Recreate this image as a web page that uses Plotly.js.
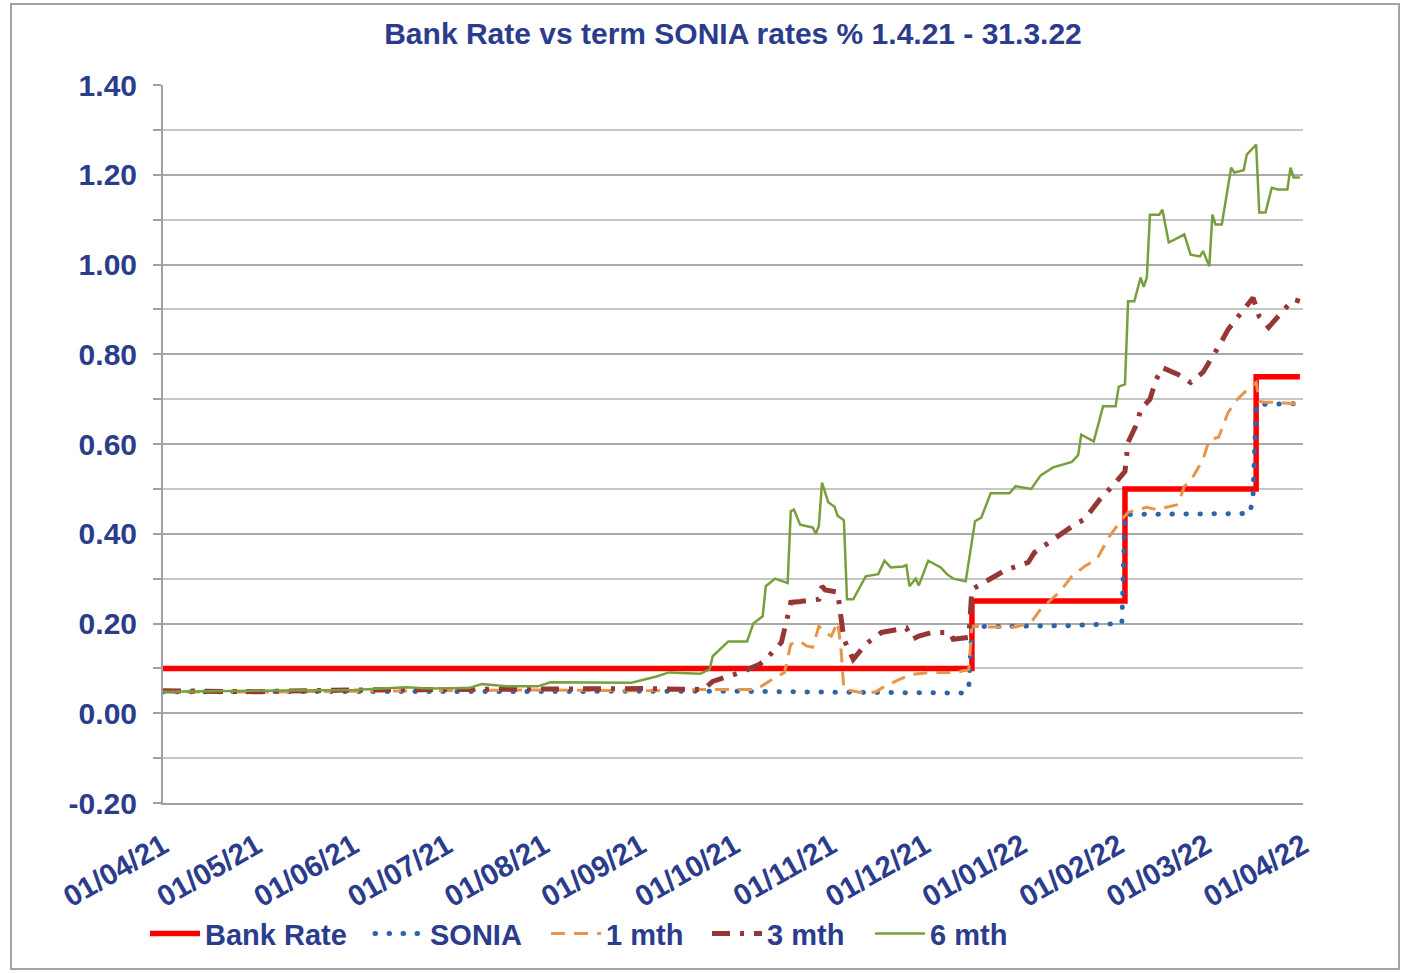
<!DOCTYPE html>
<html>
<head>
<meta charset="utf-8">
<script src="https://cdn.plot.ly/plotly-3.0.1.min.js"></script>
<style>
  html, body { margin: 0; padding: 0; background: #fff; }
  #chart { position: absolute; left: 0; top: 0; width: 1402px; height: 973px; }
  #frame { position: absolute; left: 10px; top: 3px; width: 1390px; height: 967px;
           border: 2px solid #a3a3a3; box-sizing: border-box; pointer-events: none; }
  .tracesonia .js-line, .legend2 .js-line { stroke-linecap: round; }
</style>
</head>
<body>
<div id="chart"></div>
<div id="frame"></div>
<script>
// ---- Data ----
const bankDates = ['2021-04-01','2021-12-16','2022-02-03','2022-03-17','2022-03-31'];
const bankVals  = [0.10, 0.25, 0.50, 0.75, 0.75];

const soniaDates = ['2021-04-01','2021-06-01','2021-09-01','2021-10-01','2021-11-01','2021-12-14','2021-12-15','2021-12-16',
                    '2022-01-15','2022-02-02','2022-02-03','2022-03-15','2022-03-16','2022-03-17','2022-03-31'];
const soniaVals  = [0.048,0.049,0.048,0.049,0.047,0.045,0.058,0.193,
                    0.195,0.200,0.443,0.445,0.483,0.688,0.690];

const m1Dates = ['2021-04-01','2021-05-01','2021-06-01','2021-07-01','2021-08-01','2021-09-01','2021-09-20','2021-10-08',
                 '2021-10-12','2021-10-17','2021-10-18','2021-10-19','2021-10-22','2021-10-24','2021-10-26','2021-10-28',
                 '2021-10-30','2021-11-01','2021-11-03','2021-11-04','2021-11-05','2021-11-10','2021-11-15','2021-11-18',
                 '2021-11-23','2021-11-27','2021-12-03','2021-12-11','2021-12-15','2021-12-16','2021-12-21','2021-12-30',
                 '2022-01-04','2022-01-07','2022-01-13','2022-01-17','2022-01-21','2022-01-25','2022-01-29','2022-02-02',
                 '2022-02-04','2022-02-10','2022-02-13','2022-02-18','2022-02-20','2022-02-22','2022-02-24','2022-02-28',
                 '2022-03-02','2022-03-05','2022-03-08','2022-03-11','2022-03-14','2022-03-17','2022-03-18','2022-03-20',
                 '2022-03-24','2022-03-31'];
const m1Vals  = [0.048,0.047,0.049,0.050,0.052,0.050,0.053,0.053,
                 0.071,0.091,0.120,0.154,0.160,0.150,0.147,0.194,
                 0.180,0.172,0.203,0.150,0.053,0.047,0.047,0.060,
                 0.076,0.087,0.091,0.091,0.098,0.194,0.192,0.192,
                 0.203,0.232,0.270,0.305,0.327,0.343,0.394,0.432,
                 0.448,0.459,0.454,0.461,0.465,0.506,0.517,0.566,
                 0.610,0.615,0.670,0.700,0.720,0.737,0.695,0.693,
                 0.693,0.688];

const m3Dates = ['2021-04-01','2021-05-01','2021-06-01','2021-07-01','2021-08-01','2021-09-01','2021-09-21','2021-09-24',
                 '2021-10-03','2021-10-09','2021-10-11','2021-10-16','2021-10-18','2021-10-19','2021-10-22','2021-10-28',
                 '2021-10-29','2021-10-30','2021-11-03','2021-11-04','2021-11-05','2021-11-08','2021-11-10','2021-11-12',
                 '2021-11-17','2021-11-25','2021-11-27','2021-11-29','2021-12-03','2021-12-09','2021-12-10','2021-12-15',
                 '2021-12-16','2021-12-20','2021-12-27','2022-01-03','2022-01-05','2022-01-12','2022-01-18','2022-01-21',
                 '2022-01-26','2022-01-31','2022-02-03','2022-02-04','2022-02-07','2022-02-08','2022-02-11','2022-02-13',
                 '2022-02-15','2022-02-20','2022-02-24','2022-02-28','2022-03-03','2022-03-05','2022-03-08','2022-03-11',
                 '2022-03-16','2022-03-18','2022-03-21','2022-03-26','2022-03-29','2022-03-31'];
const m3Vals  = [0.050,0.048,0.052,0.053,0.055,0.055,0.053,0.071,
                 0.091,0.109,0.120,0.158,0.216,0.247,0.249,0.254,
                 0.283,0.275,0.270,0.225,0.165,0.120,0.136,0.154,
                 0.180,0.190,0.165,0.172,0.180,0.180,0.165,0.169,
                 0.276,0.292,0.320,0.336,0.358,0.392,0.421,0.432,
                 0.477,0.514,0.539,0.604,0.648,0.677,0.700,0.744,
                 0.770,0.755,0.737,0.760,0.793,0.817,0.855,0.882,
                 0.926,0.884,0.860,0.900,0.922,0.918];

const m6Dates = ['2021-04-01','2021-04-20','2021-05-10','2021-06-01','2021-06-18','2021-06-25','2021-07-08','2021-07-12',
                 '2021-07-20','2021-07-30','2021-08-03','2021-08-29','2021-09-06','2021-09-10','2021-09-20','2021-09-23',
                 '2021-09-24','2021-09-29','2021-10-05','2021-10-07','2021-10-10','2021-10-11','2021-10-14','2021-10-18',
                 '2021-10-19','2021-10-20','2021-10-22','2021-10-26','2021-10-27','2021-10-28','2021-10-29','2021-10-31',
                 '2021-11-02','2021-11-03','2021-11-05','2021-11-06','2021-11-08','2021-11-12','2021-11-16','2021-11-18',
                 '2021-11-20','2021-11-24','2021-11-25','2021-11-26','2021-11-28','2021-11-29','2021-12-02','2021-12-06',
                 '2021-12-08','2021-12-10','2021-12-14','2021-12-17','2021-12-19','2021-12-22','2021-12-28','2021-12-30',
                 '2022-01-04','2022-01-07','2022-01-11','2022-01-17','2022-01-19','2022-01-20','2022-01-24','2022-01-27',
                 '2022-01-31','2022-02-01','2022-02-03','2022-02-04','2022-02-06','2022-02-08','2022-02-09','2022-02-10',
                 '2022-02-11','2022-02-14','2022-02-15','2022-02-17','2022-02-19','2022-02-22','2022-02-24','2022-02-27',
                 '2022-02-28','2022-03-02','2022-03-03','2022-03-04','2022-03-06','2022-03-09','2022-03-10','2022-03-13',
                 '2022-03-14','2022-03-17','2022-03-18','2022-03-20','2022-03-22','2022-03-24','2022-03-27','2022-03-28',
                 '2022-03-29','2022-03-31'];
const m6Vals  = [0.048,0.049,0.050,0.052,0.058,0.055,0.056,0.065,
                 0.060,0.060,0.069,0.068,0.082,0.091,0.088,0.098,
                 0.127,0.160,0.160,0.200,0.216,0.283,0.300,0.290,
                 0.450,0.454,0.420,0.414,0.400,0.418,0.514,0.470,
                 0.460,0.440,0.430,0.254,0.254,0.305,0.310,0.340,
                 0.325,0.327,0.330,0.283,0.300,0.285,0.340,0.325,
                 0.310,0.300,0.294,0.428,0.436,0.490,0.490,0.506,
                 0.500,0.530,0.548,0.560,0.575,0.621,0.606,0.684,
                 0.684,0.728,0.733,0.918,0.918,0.971,0.950,0.971,
                 1.111,1.111,1.122,1.049,1.056,1.067,1.022,1.018,
                 1.030,0.996,1.111,1.089,1.089,1.216,1.205,1.210,
                 1.245,1.267,1.116,1.116,1.171,1.167,1.167,1.216,
                 1.194,1.194];

const seriesNames = ['Bank Rate','SONIA','1 mth','3 mth','6 mth'];
const yTickVals   = [-0.2, 0, 0.2, 0.4, 0.6, 0.8, 1.0, 1.2, 1.4];
const yTickLabels = ['-0.20','0.00','0.20','0.40','0.60','0.80','1.00','1.20','1.40'];

// ---- Styling ----
const navy = '#2B3C8C';
const fontFam = '"Liberation Sans", Arial, sans-serif';
const lfont = {family: fontFam, color: navy, size: 29, weight: 700};

const traces = [
  {x: bankDates, y: bankVals, name: seriesNames[0], legend: 'legend', mode: 'lines',
   line: {color: '#FF0000', width: 5.5, shape: 'hv'}},
  {x: soniaDates, y: soniaVals, name: seriesNames[1], legend: 'legend2', uid: 'sonia', mode: 'lines',
   line: {color: '#2E64A8', width: 5, dash: '0.5px,13.5px'}},
  {x: m1Dates, y: m1Vals, name: seriesNames[2], legend: 'legend3', mode: 'lines',
   line: {color: '#E8944A', width: 3, dash: '14px,9px'}},
  {x: m3Dates, y: m3Vals, name: seriesNames[3], legend: 'legend4', mode: 'lines',
   line: {color: '#953735', width: 5, dash: '18px,10px,4px,10px'}},
  {x: m6Dates, y: m6Vals, name: seriesNames[4], legend: 'legend5', mode: 'lines',
   line: {color: '#77A03C', width: 2.5}}
];
traces.forEach(t => { t.hoverinfo = 'skip'; });

function mkLegend(xp) {
  return {orientation: 'h', x: xp, xanchor: 'left', y: -0.182, yanchor: 'middle', itemwidth: 50,
          font: lfont, bgcolor: 'rgba(0,0,0,0)', borderwidth: 0};
}

const layout = {
  width: 1402, height: 973,
  paper_bgcolor: 'rgba(0,0,0,0)', plot_bgcolor: '#ffffff',
  margin: {l: 163, r: 99, t: 85, b: 170},
  font: {family: fontFam, color: navy, size: 29, weight: 700},
  title: {text: 'Bank Rate vs term SONIA rates % 1.4.21 - 31.3.22',
          x: 0.5, xref: 'paper', xanchor: 'center', y: 0.966, yref: 'container', yanchor: 'middle',
          font: {family: fontFam, color: navy, size: 30, weight: 700}},
  showlegend: true,
  legend: mkLegend(-0.0158),
  legend2: mkLegend(0.1816),
  legend3: mkLegend(0.3360),
  legend4: mkLegend(0.4772),
  legend5: mkLegend(0.6202),
  xaxis: {type: 'date', range: ['2021-04-01', '2022-04-01'], tick0: '2021-04-01', dtick: 'M1',
          tickformat: '%d/%m/%y', tickangle: -30, ticks: '', showgrid: false, zeroline: false,
          showline: true, linecolor: '#a0a0a0', linewidth: 2, ticklabelstandoff: 12,
          tickfont: {family: fontFam, color: navy, size: 29.5, weight: 700}, fixedrange: true},
  xaxis2: {type: 'date', overlaying: 'x', matches: 'x', anchor: 'free', position: 0.125,
           range: ['2021-04-01', '2022-04-01'], tick0: '2021-04-01', dtick: 'M1',
           showticklabels: false, ticks: 'outside', ticklen: 8, tickwidth: 2, tickcolor: '#a0a0a0',
           showline: true, linecolor: '#a0a0a0', linewidth: 2, showgrid: false, zeroline: false},
  yaxis: {range: [-0.2, 1.4], tickmode: 'array', tickvals: yTickVals, ticktext: yTickLabels,
          showgrid: true, gridcolor: '#a9a9a9', gridwidth: 2, zeroline: false,
          showline: true, linecolor: '#a0a0a0', linewidth: 2,
          ticks: 'outside', ticklen: 8, tickwidth: 2, tickcolor: '#a0a0a0', ticklabelstandoff: 10,
          minor: {dtick: 0.1, tick0: 0, showgrid: true, gridcolor: '#c6c6c6', gridwidth: 2,
                  ticks: 'outside', ticklen: 8, tickwidth: 2, tickcolor: '#a0a0a0'},
          tickfont: {family: fontFam, color: navy, size: 30, weight: 700}, fixedrange: true}
};

Plotly.newPlot('chart', traces, layout, {staticPlot: true, displayModeBar: false});
</script>
</body>
</html>
